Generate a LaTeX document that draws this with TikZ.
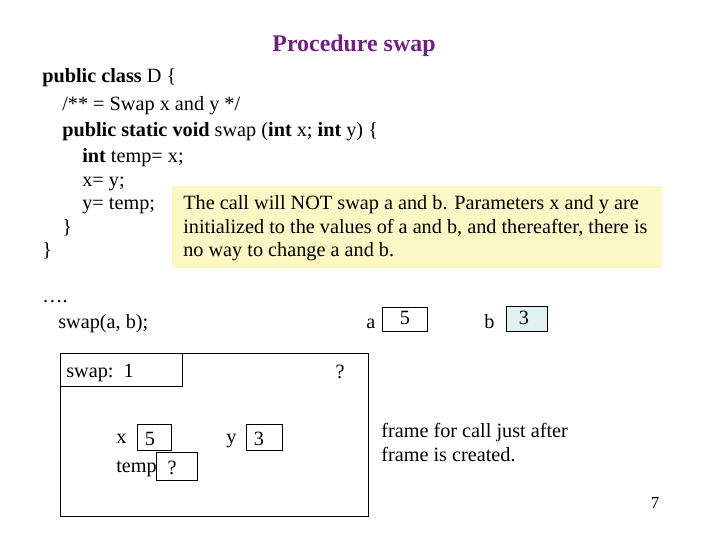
\documentclass[tikz,border=0pt]{standalone}
\usepackage{fontspec}
\setmainfont{Liberation Serif}
\usepackage{xcolor}
\usetikzlibrary{positioning}
\definecolor{titlecol}{RGB}{112,32,128}
\definecolor{notecol}{RGB}{251,248,197}
\definecolor{cellcol}{RGB}{225,242,242}
\begin{document}
\begin{tikzpicture}[x=0.025cm,y=-0.025cm,
						txt/.style={anchor=base west, inner sep=0pt, font=\fontsize{14.4}{17}\selectfont},
						cell/.style={draw=black, thin, inner sep=0pt},
						val/.style={anchor=base, inner sep=0pt, font=\fontsize{14.4}{17}\selectfont}
						]
						\useasboundingbox (0,0) rectangle (720,540);
						\node[anchor=base, inner sep=0pt, font=\fontsize{17}{20}\selectfont\bfseries, text=titlecol] (title) at (354,51) {Procedure swap};
						
						% code
						\node[txt] (c1) at (42,82)  {\textbf{public class} D \{};
						\node[txt] (c2) at (62,110) {/** = Swap x and y */};
						\node[txt] (c3) at (62,136) {\textbf{public static void} swap (\textbf{int} x; \textbf{int} y) \{};
						\node[txt] (c4) at (82,162) {\textbf{int} temp= x;};
						\node[txt] (c5) at (82,186) {x= y;};
						\node[txt] (c6) at (82,209) {y= temp;};
						\node[txt] (c7) at (62,233) {\}};
						\node[txt] (c8) at (42,256) {\}};
						
						% note
						\fill[notecol] (172,186) rectangle (662,268);
						\node[txt] (n1) at (183,209) {The call will NOT swap a and b. Parameters x and y are};
						\node[txt] (n2) at (183,233) {initialized to the values of a and b, and thereafter, there is};
						\node[txt] (n3) at (183,256) {no way to change a and b.};
						
						% call
						\node[txt] (dots) at (42,302) {\dots.};
						\node[txt] (call) at (58,328) {swap(a, b);};
						\node[txt] (la) at (366,328) {a};
						\draw[cell, fill=white] (382,307) rectangle (427,331);
						\node[val] (va) at (405,324) {5};
						\node[txt] (lb) at (484,328) {b};
						\draw[cell, fill=cellcol] (506,306) rectangle (547,331);
						\node[val] (vb) at (524,324) {3};
						
						% frame
						\draw[thin] (60,353) rectangle (368,516);
						\draw[thin] (60,353) rectangle (182,386);
						\node[txt] (fname) at (66,377) {swap:\ \ 1};
						\node[val] (q) at (340,378) {?};
						\node[txt] (lx) at (116,443) {x};
						\draw[cell] (137,424) rectangle (171,450);
						\node[val] (vx) at (150,445) {5};
						\node[txt] (lt) at (116,472) {temp};
						\draw[cell] (156,452) rectangle (197,480);
						\node[val] (vt) at (172,474) {?};
						\node[txt] (ly) at (226,443) {y};
						\draw[cell] (246,424) rectangle (282,450);
						\node[val] (vy) at (259,445) {3};
						
						\node[txt] (f1) at (381,437) {frame for call just after};
						\node[txt] (f2) at (381,461) {frame is created.};
						\node[val, font=\fontsize{12}{14}\selectfont] (pg) at (655,508) {7};
					\end{tikzpicture}
\end{document}
